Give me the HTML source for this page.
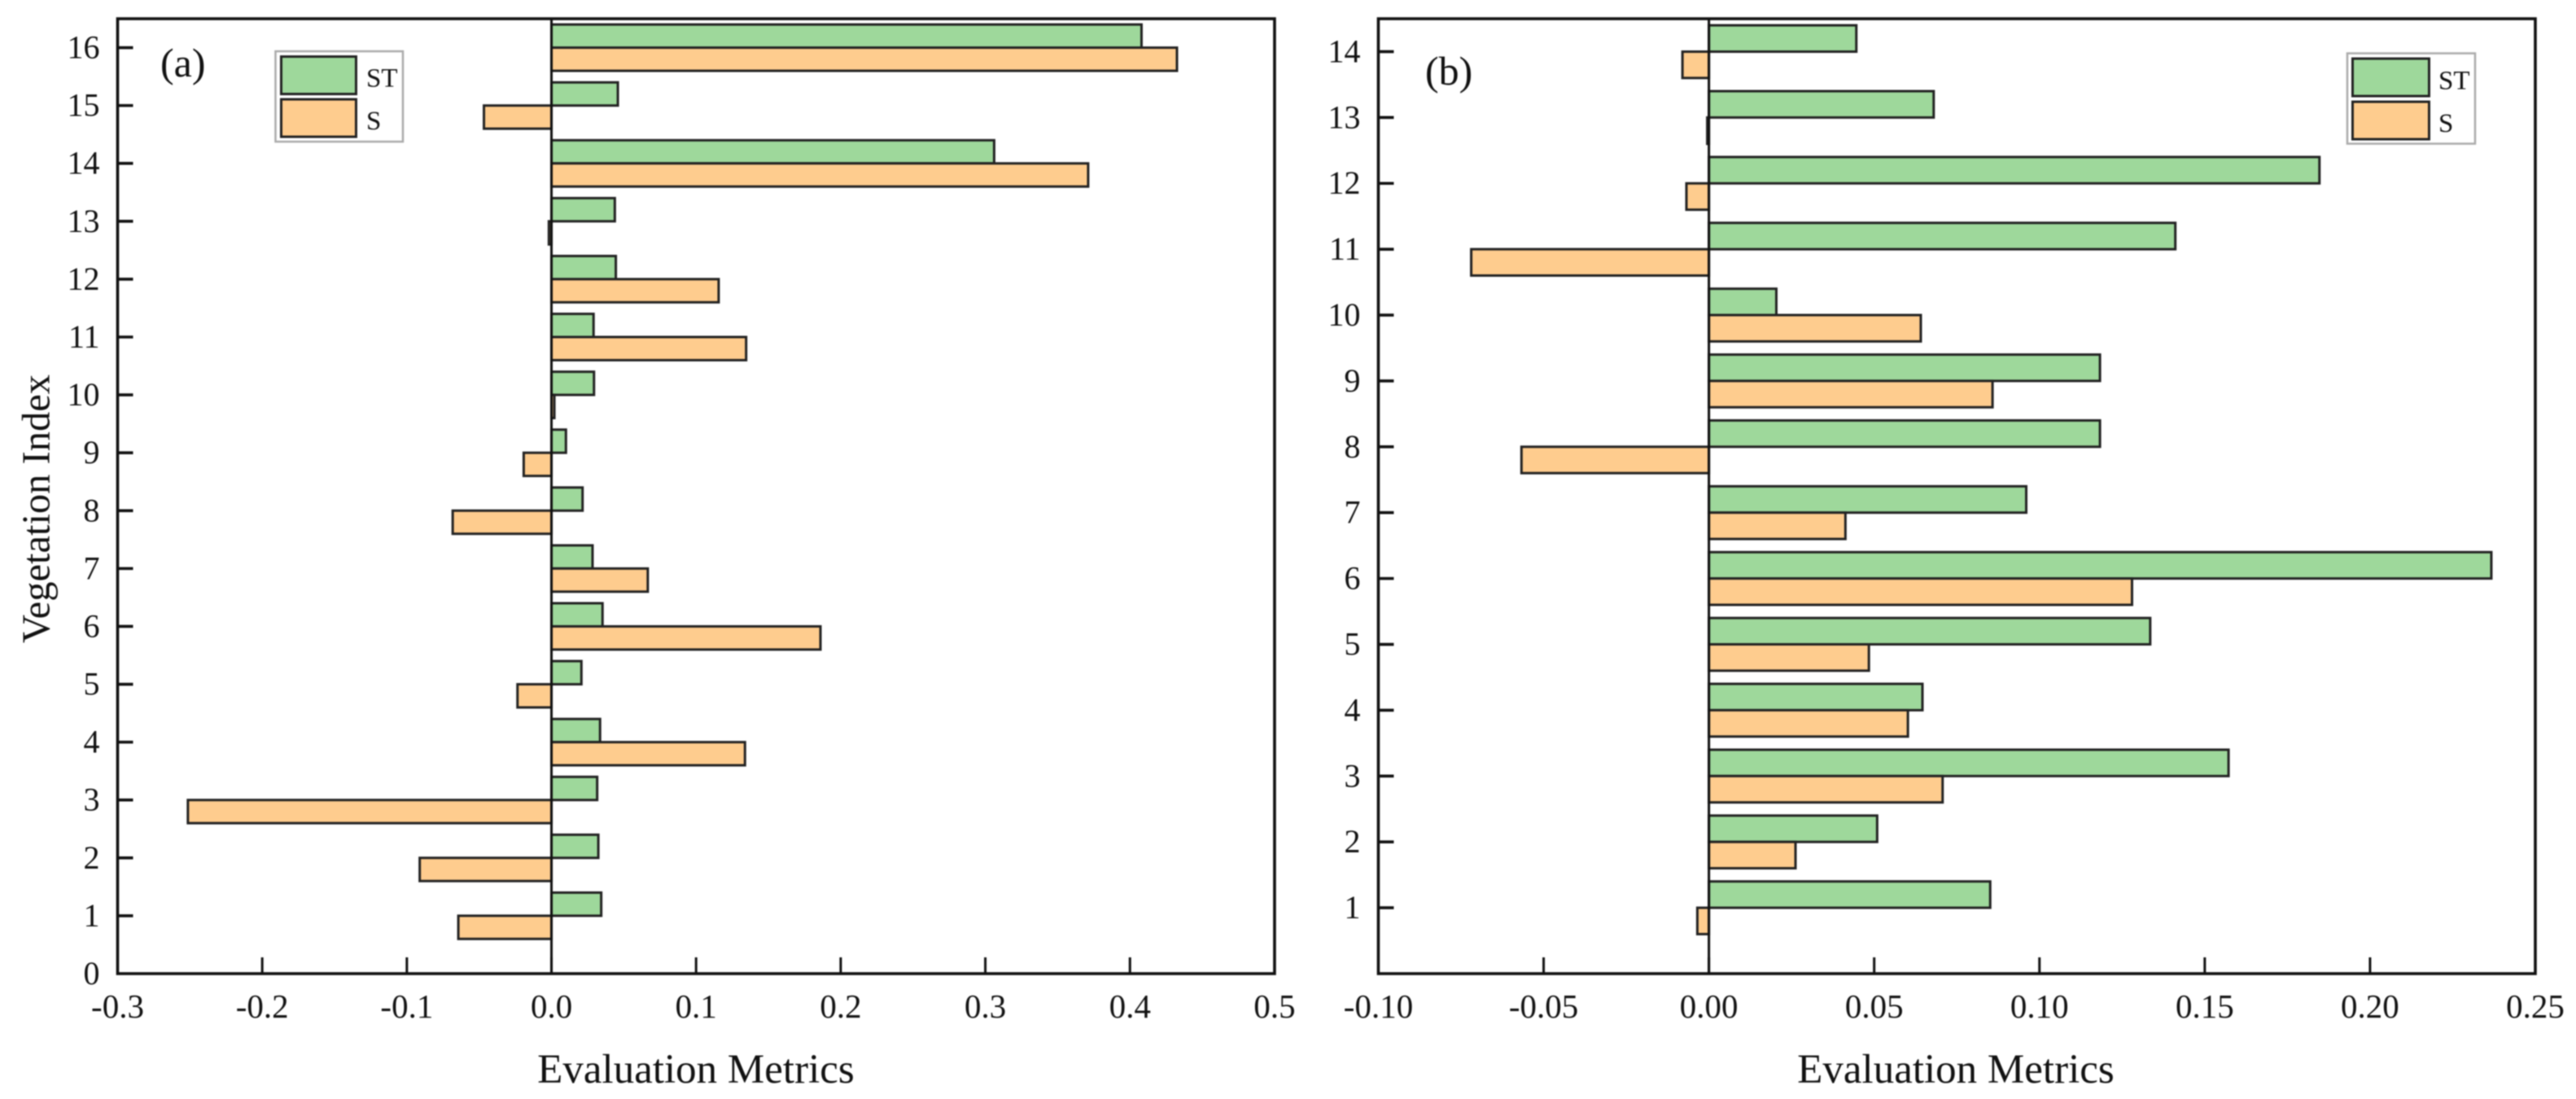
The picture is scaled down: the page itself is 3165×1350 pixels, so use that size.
<!DOCTYPE html>
<html lang="en">
<head>
<meta charset="utf-8">
<title>Vegetation Index Evaluation Metrics</title>
<style>
html,body{margin:0;padding:0;background:#fff;}
body{width:3165px;height:1350px;overflow:hidden;}
svg{display:block;filter:blur(0.8px);}
text{font-family:"Liberation Serif",serif;fill:#111;}
</style>
</head>
<body>
<svg id="chart" xmlns="http://www.w3.org/2000/svg" width="3165" height="1350" viewBox="0 0 3165 1350">
  <g id="panel-a"></g>
  <g id="panel-b"></g>

  <text x="0" y="0" font-size="48.5" text-anchor="middle" transform="translate(60.5,625) rotate(-90)">Vegetation Index</text>
  <text x="855" y="1330" font-size="51" text-anchor="middle">Evaluation Metrics</text>
  <text x="2403" y="1330" font-size="51" text-anchor="middle">Evaluation Metrics</text>
  <text x="197" y="94" font-size="50">(a)</text>
  <text x="1751" y="104" font-size="50">(b)</text>

  <g>
    <rect x="338.5" y="63" width="156.5" height="111" fill="#fff" stroke="#aaaaaa" stroke-width="2.5"/>
    <rect x="345.5" y="69.5" width="92" height="46" fill="#9ED89B" stroke="#222" stroke-width="3"/>
    <rect x="345.5" y="122" width="92" height="46" fill="#FECC8E" stroke="#222" stroke-width="3"/>
    <text x="450" y="106.5" font-size="33">ST</text>
    <text x="450" y="159" font-size="33">S</text>
  </g>
  <g>
    <rect x="2884" y="65.5" width="157" height="111" fill="#fff" stroke="#aaaaaa" stroke-width="2.5"/>
    <rect x="2890.5" y="72" width="94" height="46" fill="#9ED89B" stroke="#222" stroke-width="3"/>
    <rect x="2890.5" y="125" width="94" height="46" fill="#FECC8E" stroke="#222" stroke-width="3"/>
    <text x="2996" y="109.5" font-size="33">ST</text>
    <text x="2996" y="162" font-size="33">S</text>
  </g>
</svg>
<script>
var categoriesA = [1,2,3,4,5,6,7,8,9,10,11,12,13,14,15,16];
var stValuesA = [0.0344,0.0324,0.0316,0.0336,0.0207,0.0353,0.0284,0.0215,0.0100,0.0294,0.0291,0.0445,0.0438,0.3061,0.0459,0.4080];
var sValuesA = [-0.0644,-0.0911,-0.2514,0.1338,-0.0235,0.1860,0.0666,-0.0683,-0.0192,0.0020,0.1346,0.1156,-0.0018,0.3711,-0.0467,0.4325];
var xTickLabelsA = ["-0.3","-0.2","-0.1","0.0","0.1","0.2","0.3","0.4","0.5"];
var yTickLabelsA = ["0","1","2","3","4","5","6","7","8","9","10","11","12","13","14","15","16"];

var categoriesB = [1,2,3,4,5,6,7,8,9,10,11,12,13,14];
var stValuesB = [0.0851,0.0509,0.1572,0.0646,0.1335,0.2367,0.0960,0.1183,0.1183,0.0204,0.1411,0.1847,0.0680,0.0446];
var sValuesB = [-0.0035,0.0262,0.0707,0.0602,0.0484,0.1280,0.0413,-0.0567,0.0858,0.0641,-0.0719,-0.0068,-0.0005,-0.0080];
var xTickLabelsB = ["-0.10","-0.05","0.00","0.05","0.10","0.15","0.20","0.25"];
var yTickLabelsB = ["1","2","3","4","5","6","7","8","9","10","11","12","13","14"];

var SVG_NS = 'http://www.w3.org/2000/svg';

function shape(tag, parent, props) {
  var el = document.createElementNS(SVG_NS, tag);
  for (var k in props) { el.setAttribute(k, props[k]); }
  parent.appendChild(el);
  return el;
}

function drawPanel(cfg) {
  var g = document.getElementById(cfg.id);
  function xScale(v) { return cfg.left + (v - cfg.xMin) / (cfg.xMax - cfg.xMin) * (cfg.right - cfg.left); }
  function yScale(v) { return cfg.bottom - (v - cfg.yMin) / (cfg.yMax - cfg.yMin) * (cfg.bottom - cfg.top); }

  var barThickness = 0.4;
  cfg.categories.forEach(function (c, i) {
    var zero = xScale(0);
    var stEnd = xScale(cfg.st[i]);
    var stBar = shape('rect', g, {
      x: Math.min(zero, stEnd),
      y: yScale(c + barThickness),
      width: Math.abs(stEnd - zero),
      height: yScale(c) - yScale(c + barThickness),
      fill: '#9ED89B', stroke: '#222', 'stroke-width': 3
    });
    
    

    var sEnd = xScale(cfg.s[i]);
    var sBar = shape('rect', g, {
      x: Math.min(zero, sEnd),
      y: yScale(c),
      width: Math.abs(sEnd - zero),
      height: yScale(c - barThickness) - yScale(c),
      fill: '#FECC8E', stroke: '#222', 'stroke-width': 3
    });
    
    
  });

  var zeroLine = shape('line', g, {
    x1: xScale(0), x2: xScale(0), y1: cfg.top, y2: cfg.bottom,
    stroke: '#111', 'stroke-width': 3
  });
  
  

  var frame = shape('rect', g, {
    x: cfg.left, y: cfg.top, width: cfg.right - cfg.left, height: cfg.bottom - cfg.top,
    fill: 'none', stroke: '#111', 'stroke-width': 3.6
  });
  
  

  cfg.xTicks.forEach(function (label) {
    var v = parseFloat(label);
    var px = xScale(v);
    if (v !== cfg.xMin && v !== cfg.xMax) {
      var tick = shape('line', g, {
        x1: px, x2: px, y1: cfg.bottom, y2: cfg.bottom - 20,
        stroke: '#111', 'stroke-width': 3
      });
      
      
    }
    var text = shape('text', g, {
      x: px, y: cfg.bottom + 54, 'font-size': 41, 'text-anchor': 'middle'
    });
    text.textContent = label;
    
    
  });

  cfg.yTicks.forEach(function (label) {
    var v = parseFloat(label);
    var py = yScale(v);
    if (v !== cfg.yMin) {
      var tick = shape('line', g, {
        x1: cfg.left, x2: cfg.left + 19, y1: py, y2: py,
        stroke: '#111', 'stroke-width': 3.6
      });
      
      
    }
    var text = shape('text', g, {
      x: cfg.left - 22, y: py + 13, 'font-size': 40, 'text-anchor': 'end'
    });
    text.textContent = label;
    
    
  });
}

drawPanel({
  id: 'panel-a', left: 144.5, right: 1566, top: 23, bottom: 1196,
  xMin: -0.3, xMax: 0.5, yMin: 0, yMax: 16.5,
  categories: categoriesA, st: stValuesA, s: sValuesA,
  xTicks: xTickLabelsA, yTicks: yTickLabelsA
});
drawPanel({
  id: 'panel-b', left: 1693.5, right: 3115, top: 23, bottom: 1196,
  xMin: -0.10, xMax: 0.25, yMin: 0, yMax: 14.5,
  categories: categoriesB, st: stValuesB, s: sValuesB,
  xTicks: xTickLabelsB, yTicks: yTickLabelsB
});
</script>
</body>
</html>
